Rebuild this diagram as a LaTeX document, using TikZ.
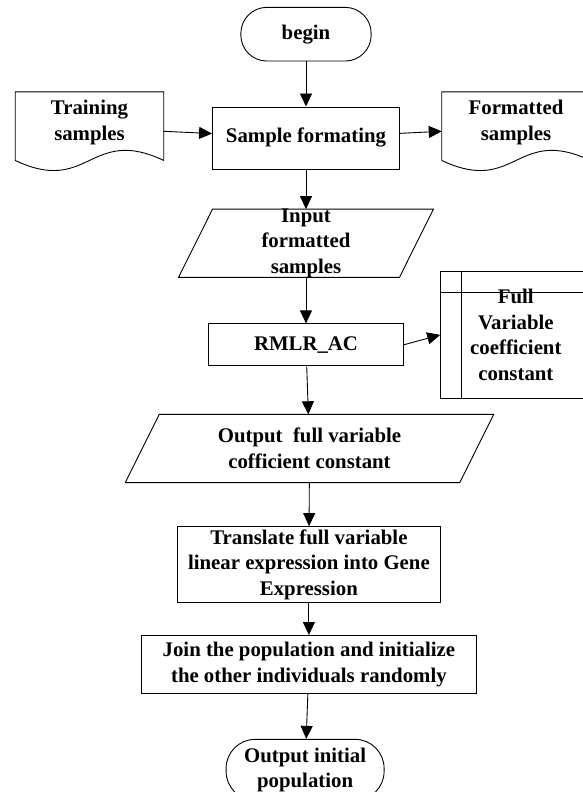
\documentclass[tikz,border=0pt]{standalone}
\usepackage{fontspec}
\setmainfont{Liberation Serif}
\usetikzlibrary{arrows.meta,positioning}

\begin{document}
\begin{tikzpicture}[x=1pt,y=-1pt,>={Triangle[length=13pt,width=12pt]},
 line width=0.9pt,node distance=40pt,
 every node/.style={font=\fontsize{20.8}{25.5}\selectfont\bfseries,
 align=center,inner sep=0pt},
 term/.style={draw,rounded corners=26pt},
 proc/.style={draw},
 docu/.style={minimum width=147.6pt,minimum height=60pt},
 para/.style={minimum height=67.4pt},
 store/.style={draw,minimum width=150.3pt,minimum height=126.3pt}]
\useasboundingbox (0,0) rectangle (582,792);
% main column
\node[term,minimum width=130.3pt,minimum height=53.7pt] (begin) at (306,34.2) {begin};
\node[proc,below=45pt of begin,minimum width=187pt,minimum height=62pt] (fmt) {Sample formating};
\node[para,below=39.7pt of fmt,minimum width=254pt] (inp) {};
\node (inptxt) at (inp) {Input\\formatted\\samples};
\node[proc,below=46pt of inp,minimum width=194.3pt,minimum height=42pt] (rmlr) {RMLR\_AC};
\node[para,below=48pt of rmlr,xshift=3.5pt,minimum width=367.6pt] (outp)
  {Output \ full variable\\cofficient constant};
\node[proc,below=43.5pt of outp,xshift=-0.6pt,minimum width=263.7pt,minimum height=76pt] (trans)
  {Translate full variable\\linear expression into Gene\\Expression};
\node[proc,below=32pt of trans,minimum width=334.3pt,minimum height=58pt] (join)
  {Join the population and initialize\\the other individuals randomly};
\node[term,below=45pt of join,xshift=-3.8pt,minimum width=158pt,minimum height=61pt,
  rounded corners=29pt] (out) {Output initial\\population};
% side nodes
\node[docu] (train) at (89.5,122.3) {Training\\samples};
\node[docu] (form) at (516,122.3) {Formatted\\samples};
\node[store] (coef) at (515.85,334.85) {Full\\Variable\\coefficient\\constant};
% outlines
\draw (train.north west) -- (train.north east) -- ([yshift=-7.7pt]train.south east)
  .. controls +(-73.8,-35) and +(73.8,35) .. ([yshift=-7.7pt]train.south west) -- cycle;
\draw (form.north west) -- (form.north east) -- ([yshift=-7.7pt]form.south east)
  .. controls +(-74,-35) and +(74,35) .. ([yshift=-7.7pt]form.south west) -- cycle;
\draw ([xshift=34pt]inp.north west) -- (inp.north east)
  -- ([xshift=-34pt]inp.south east) -- (inp.south west) -- cycle;
\draw ([xshift=34pt]outp.north west) -- (outp.north east)
  -- ([xshift=-34pt]outp.south east) -- (outp.south west) -- cycle;
\draw ([xshift=21pt]coef.north west) -- ([xshift=21pt]coef.south west);
\draw ([yshift=-21.3pt]coef.north west) -- ([yshift=-21.3pt]coef.north east);
% arrows
\draw[->] (begin) -- (fmt);
\draw[->] ([yshift=-9pt]train.east) -- (fmt);
\draw[->] (fmt) -- ([yshift=-9pt]form.west);
\draw[->] (fmt) -- (inp);
\draw[->] (inp) -- (rmlr);
\draw[->] (rmlr.east) -- (coef.west);
\draw[->] (rmlr) -- (outp);
\draw[->] (outp) -- (trans);
\draw[->] (trans) -- (join);
\draw[->] (join) -- (out);
\end{tikzpicture}
\end{document}
